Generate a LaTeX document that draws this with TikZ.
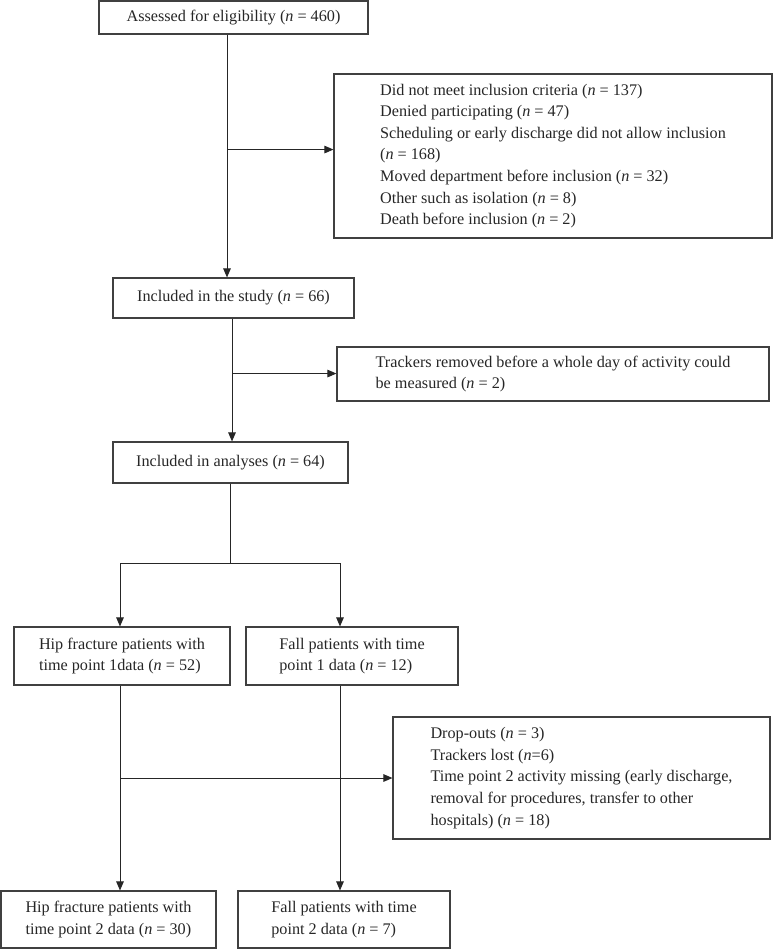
\documentclass[tikz,border=0pt]{standalone}
\usepackage{fontspec}
\setmainfont{Liberation Serif}
\usepackage{tikz}
\usetikzlibrary{arrows.meta,positioning}
\newcommand{\cnt}[1]{(\textit{n}~=~#1)}
\tikzset{
  box/.style={draw=black!75, line width=1.1pt, align=left, inner sep=0pt, text=black!85, font=\fontsize{16.2pt}{21.6pt}\selectfont},
  arrow/.style={-{Triangle[length=9pt,width=7.5pt]}, line width=1pt, draw=black!85}
}
\begin{document}
\begin{tikzpicture}[x=1pt,y=-1pt]
\useasboundingbox (0,0) rectangle (776,949);
\node[box, minimum width=269pt, minimum height=33pt] (assess) at (233.5,17.5) {Assessed for eligibility \cnt{460}};
\node[box, minimum width=438pt, minimum height=164pt] (excl) at (553,156) {Did not meet inclusion criteria \cnt{137}\\Denied participating \cnt{47}\\Scheduling or early discharge did not allow inclusion\\\cnt{168}\\Moved department before inclusion \cnt{32}\\Other such as isolation \cnt{8}\\Death before inclusion \cnt{2}};
\node[box, minimum width=241pt, minimum height=40pt] (incl) at (233.5,298) {Included in the study \cnt{66}};
\node[box, minimum width=432pt, minimum height=54pt] (trk) at (553,374) {Trackers removed before a whole day of activity could\\be measured \cnt{2}};
\node[box, minimum width=235pt, minimum height=41pt] (anal) at (230.5,462.5) {Included in analyses \cnt{64}};
\node[box, minimum width=216pt, minimum height=58pt] (hip1) at (122,656) {Hip fracture patients with\\time point 1data \cnt{52}};
\node[box, minimum width=212pt, minimum height=58pt] (fall1) at (352,656) {Fall patients with time\\point 1 data \cnt{12}};
\node[box, minimum width=377pt, minimum height=122pt] (drop) at (581.5,778) {Drop-outs \cnt{3}\\Trackers lost (\textit{n}=6)\\Time point 2 activity missing (early discharge,\\removal for procedures, transfer to other\\hospitals) \cnt{18}};
\node[box, minimum width=215pt, minimum height=57pt] (hip2) at (108.5,919.5) {Hip fracture patients with\\time point 2 data \cnt{30}};
\node[box, minimum width=212pt, minimum height=57pt] (fall2) at (344,919.5) {Fall patients with time\\point 2 data \cnt{7}};
% branch points
\coordinate (ab) at ([xshift=-6.5pt,yshift=-115pt]assess.south);
\coordinate (ib) at ([xshift=-1.5pt,yshift=-55pt]incl.south);
\coordinate (split) at ([yshift=-80pt]anal.south);
\coordinate (hb) at ([xshift=-2pt]hip1.south |- drop.west);
\draw[arrow] ([xshift=-6.5pt]assess.south) -- ([xshift=-6.5pt]incl.north);
\draw[arrow] (ab) -- (ab -| excl.west);
\draw[arrow] ([xshift=-1.5pt]incl.south) -- ([xshift=1.5pt]anal.north);
\draw[arrow] (ib) -- (ib -| trk.west);
\draw[line width=1pt, draw=black!85] (anal.south) -- (split);
\draw[arrow] (split) -| ([xshift=-2pt]hip1.north);
\draw[arrow] (split) -| ([xshift=-12pt]fall1.north);
\draw[arrow] ([xshift=-2pt]hip1.south) -- ([xshift=11.5pt]hip2.north);
\draw[arrow] (hb) -- (drop.west);
\draw[arrow] ([xshift=-12pt]fall1.south) -- ([xshift=-4pt]fall2.north);
\end{tikzpicture}
\end{document}
